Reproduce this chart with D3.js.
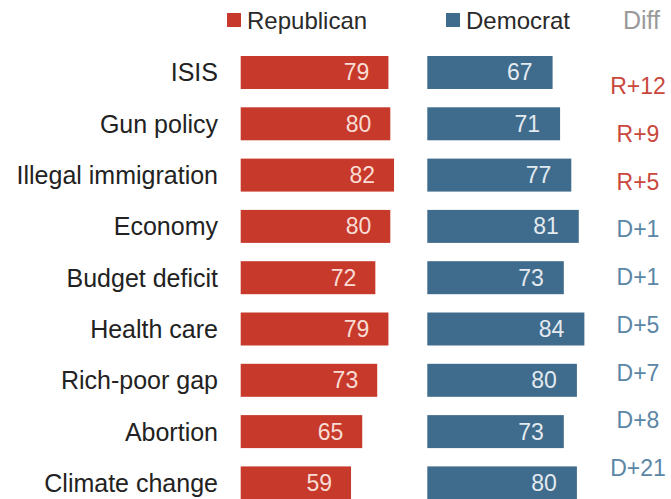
<!DOCTYPE html>
<html>
<head>
<meta charset="utf-8">
<script src="https://cdn.jsdelivr.net/npm/d3@7"></script>
<style>
  body { margin: 0; background: #fff; }
  svg { display: block; font-family: "Liberation Sans", Arial, sans-serif; }
</style>
</head>
<body>
<div class="chart"></div>
<script>
// DATA
const CATEGORIES = ["ISIS", "Gun policy", "Illegal immigration", "Economy", "Budget deficit",
                    "Health care", "Rich-poor gap", "Abortion", "Climate change"];
const REPUBLICAN = [79, 80, 82, 80, 72, 79, 73, 65, 59];
const DEMOCRAT = [67, 71, 77, 81, 73, 84, 80, 73, 80];
const DIFF_LABELS = ["R+12", "R+9", "R+5", "D+1", "D+1", "D+5", "D+7", "D+8", "D+21"];
const SERIES = ["Republican", "Democrat"];

// GLOBAL CONSTANTS
const FRAME_WIDTH = 671;
const FRAME_HEIGHT = 499;
const RED = "#c7392a";
const BLUE = "#3f6b8c";

const FRAME = d3.select(".chart")
  .append("svg")
    .attr("width", FRAME_WIDTH)
    .attr("height", FRAME_HEIGHT);

const rows = CATEGORIES.map((c, i) => ({
  category: c, rep: REPUBLICAN[i], dem: DEMOCRAT[i], diff: DIFF_LABELS[i]
}));

// SCALES
const Y_SCALE = d3.scaleBand()
  .domain(CATEGORIES)
  .range([56, 499.4])
  .paddingInner(0.357)
  .paddingOuter(0);

const X_REP = d3.scaleLinear().domain([0, 100]).range([240.7, 427.7]);
const X_DEM = d3.scaleLinear().domain([0, 100]).range([427.3, 614.3]);

// diff column sits on its own spacing
const Y_DIFF = d3.scalePoint().domain(CATEGORIES).range([86, 468]);

// LEGEND
const LEGEND_X = d3.scaleOrdinal().domain(SERIES).range([227, 446]);
const LEGEND_COLOR = d3.scaleOrdinal().domain(SERIES).range([RED, BLUE]);

const legend = FRAME.selectAll(".legend")
  .data(SERIES)
  .enter()
  .append("g")
    .attr("class", "legend")
    .attr("transform", (d) => "translate(" + LEGEND_X(d) + ",0)");

legend.append("rect")
  .attr("x", 0)
  .attr("y", 13)
  .attr("width", 14)
  .attr("height", 14)
  .attr("fill", (d) => LEGEND_COLOR(d));

legend.append("text")
  .attr("x", 20)
  .attr("y", 29)
  .attr("font-size", "24px")
  .attr("fill", "#2a2a2a")
  .text((d) => d);

FRAME.append("text")
  .attr("x", 623)
  .attr("y", 29)
  .attr("font-size", "25px")
  .attr("fill", "#9a9a9a")
  .text("Diff");

// CATEGORY LABELS
FRAME.selectAll(".cat")
  .data(rows)
  .enter()
  .append("text")
    .attr("class", "cat")
    .attr("x", 218)
    .attr("y", (d) => Y_SCALE(d.category) + Y_SCALE.bandwidth() / 2 + 9)
    .attr("text-anchor", "end")
    .attr("font-size", "25px")
    .attr("fill", "#222")
    .text((d) => d.category);

// BARS
FRAME.selectAll(".bar-rep")
  .data(rows)
  .enter()
  .append("rect")
    .attr("class", "bar-rep")
    .attr("x", X_REP(0))
    .attr("y", (d) => Y_SCALE(d.category))
    .attr("width", (d) => X_REP(d.rep) - X_REP(0))
    .attr("height", Y_SCALE.bandwidth())
    .attr("fill", RED);

FRAME.selectAll(".bar-dem")
  .data(rows)
  .enter()
  .append("rect")
    .attr("class", "bar-dem")
    .attr("x", X_DEM(0))
    .attr("y", (d) => Y_SCALE(d.category))
    .attr("width", (d) => X_DEM(d.dem) - X_DEM(0))
    .attr("height", Y_SCALE.bandwidth())
    .attr("fill", BLUE);

// VALUE LABELS
FRAME.selectAll(".val-rep")
  .data(rows)
  .enter()
  .append("text")
    .attr("class", "val-rep")
    .attr("x", (d) => X_REP(d.rep) - 19)
    .attr("y", (d) => Y_SCALE(d.category) + Y_SCALE.bandwidth() / 2 + 8)
    .attr("text-anchor", "end")
    .attr("font-size", "23px")
    .attr("fill", "#f9dcd4")
    .text((d) => d.rep);

FRAME.selectAll(".val-dem")
  .data(rows)
  .enter()
  .append("text")
    .attr("class", "val-dem")
    .attr("x", (d) => X_DEM(d.dem) - 20)
    .attr("y", (d) => Y_SCALE(d.category) + Y_SCALE.bandwidth() / 2 + 8)
    .attr("text-anchor", "end")
    .attr("font-size", "23px")
    .attr("fill", "#e3eaf0")
    .text((d) => d.dem);

// DIFF COLUMN
FRAME.selectAll(".diff")
  .data(rows)
  .enter()
  .append("text")
    .attr("class", "diff")
    .attr("x", 638)
    .attr("y", (d) => Y_DIFF(d.category) + 8)
    .attr("text-anchor", "middle")
    .attr("font-size", "23px")
    .attr("fill", (d) => d.diff[0] === "R" ? "#c9473d" : "#5b86a6")
    .text((d) => d.diff);
</script>
</body>
</html>
